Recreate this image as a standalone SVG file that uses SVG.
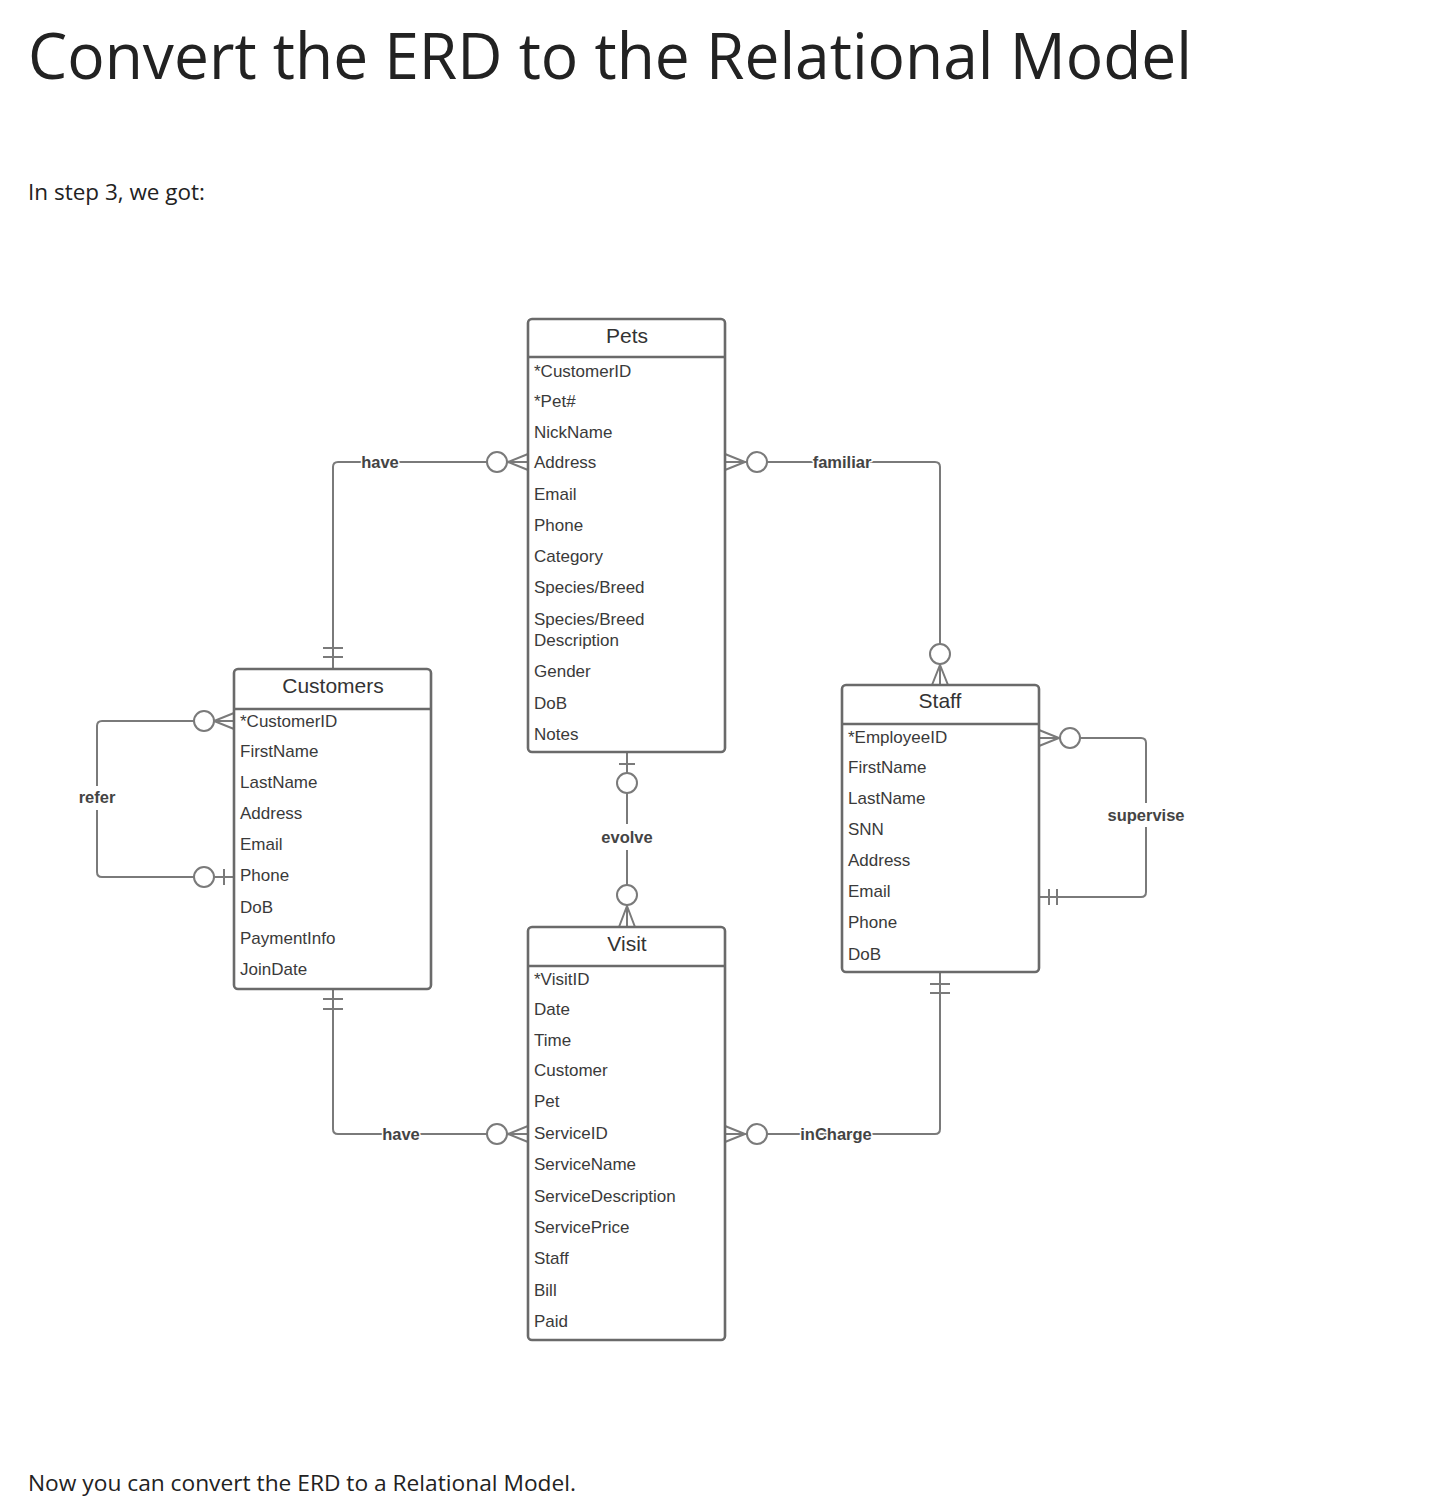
<svg xmlns="http://www.w3.org/2000/svg" width="1432" height="1509" viewBox="0 0 1432 1509">
<style>
.page{font-family:"Open Sans","Liberation Sans",sans-serif;fill:#222}
.box{fill:#fff;stroke:#6a6a6a;stroke-width:2.6}
.sep{stroke:#6a6a6a;stroke-width:2.6}
.ttl{font-family:"Liberation Sans",Arial,sans-serif;font-size:21px;fill:#333;text-anchor:middle}
.row{font-family:"Liberation Sans",Arial,sans-serif;font-size:17px;fill:#3a3a3a}
.ln{fill:none;stroke:#7a7a7a;stroke-width:2}
.cir{fill:#fff;stroke:#7a7a7a;stroke-width:2}
.bg{fill:#fff}
.lbl{font-family:"Liberation Sans",Arial,sans-serif;font-size:16.5px;font-weight:bold;fill:#444;text-anchor:middle;stroke:#fff;stroke-width:3;paint-order:stroke;stroke-linejoin:round}
</style>
<rect width="1432" height="1509" fill="#fff"/>
<text class="page" x="28" y="79" font-size="64" textLength="1164" lengthAdjust="spacingAndGlyphs">Convert the ERD to the Relational Model</text>
<text class="page" x="28" y="200" font-size="21" textLength="177" lengthAdjust="spacingAndGlyphs">In step 3, we got:</text>
<text class="page" x="28" y="1491" font-size="21" textLength="548" lengthAdjust="spacingAndGlyphs">Now you can convert the ERD to a Relational Model.</text>

<g id="connectors">
  <g id="c-have-top">
    <path class="ln" d="M487 462 H338 Q333 462 333 467 V669"/>
    <path class="ln" d="M323 648 H343 M323 657 H343"/>
    <path class="ln" d="M528 454 L508 462 L528 470 M507 462 H528"/>
    <circle class="cir" cx="497" cy="462" r="10"/>
    <text class="lbl" x="380" y="468">have</text>
  </g>
  <g id="c-familiar">
    <path class="ln" d="M767 462 H935 Q940 462 940 467 V644"/>
    <path class="ln" d="M725 454 L745 462 L725 470 M725 462 H747"/>
    <circle class="cir" cx="757" cy="462" r="10"/>
    <path class="ln" d="M932 685 L940 665 L948 685 M940 664 V685"/>
    <circle class="cir" cx="940" cy="654" r="10"/>
    <text class="lbl" x="842" y="468">familiar</text>
  </g>
  <g id="c-refer">
    <path class="ln" d="M194 721 H102 Q97 721 97 726 V872 Q97 877 102 877 H194"/>
    <path class="ln" d="M234 713 L214 721 L234 729 M214 721 H234"/>
    <circle class="cir" cx="204" cy="721" r="10"/>
    <path class="ln" d="M214 877 H234 M224 869 V885"/>
    <circle class="cir" cx="204" cy="877" r="10"/>
    <rect class="bg" x="76" y="786" width="42" height="24"/>
    <text class="lbl" x="97" y="803">refer</text>
  </g>
  <g id="c-evolve">
    <path class="ln" d="M627 752 V927"/>
    <path class="ln" d="M619 764 H635"/>
    <circle class="cir" cx="627" cy="783" r="10"/>
    <path class="ln" d="M619 927 L627 906 L635 927"/>
    <circle class="cir" cx="627" cy="895" r="10"/>
    <rect class="bg" x="598" y="824" width="58" height="26"/>
    <text class="lbl" x="627" y="843">evolve</text>
  </g>
  <g id="c-supervise">
    <path class="ln" d="M1080 738 H1141 Q1146 738 1146 743 V892 Q1146 897 1141 897 H1039"/>
    <path class="ln" d="M1039 730 L1059 738 L1039 746 M1039 738 H1060"/>
    <circle class="cir" cx="1070" cy="738" r="10"/>
    <path class="ln" d="M1049 889 V905 M1057 889 V905"/>
    <rect class="bg" x="1104" y="803" width="84" height="24"/>
    <text class="lbl" x="1146" y="821">supervise</text>
  </g>
  <g id="c-have-bottom">
    <path class="ln" d="M333 989 V1129 Q333 1134 338 1134 H487"/>
    <path class="ln" d="M323 999 H343 M323 1009 H343"/>
    <path class="ln" d="M528 1126 L508 1134 L528 1142 M507 1134 H528"/>
    <circle class="cir" cx="497" cy="1134" r="10"/>
    <text class="lbl" x="401" y="1140">have</text>
  </g>
  <g id="c-incharge">
    <path class="ln" d="M767 1134 H935 Q940 1134 940 1129 V972"/>
    <path class="ln" d="M725 1126 L745 1134 L725 1142 M725 1134 H747"/>
    <circle class="cir" cx="757" cy="1134" r="10"/>
    <path class="ln" d="M930 984 H950 M930 993 H950"/>
    <text class="lbl" x="836" y="1140">inCharge</text>
  </g>
</g>

<g id="pets">
  <rect class="box" x="528" y="319" width="197" height="433" rx="4"/>
  <line class="sep" x1="528" y1="357" x2="725" y2="357"/>
  <text class="ttl" x="627" y="343">Pets</text>
  <text class="row" x="534" y="377">*CustomerID</text>
  <text class="row" x="534" y="407">*Pet#</text>
  <text class="row" x="534" y="438">NickName</text>
  <text class="row" x="534" y="468">Address</text>
  <text class="row" x="534" y="500">Email</text>
  <text class="row" x="534" y="531">Phone</text>
  <text class="row" x="534" y="562">Category</text>
  <text class="row" x="534" y="593">Species/Breed</text>
  <text class="row" x="534" y="625">Species/Breed</text>
  <text class="row" x="534" y="646">Description</text>
  <text class="row" x="534" y="677">Gender</text>
  <text class="row" x="534" y="709">DoB</text>
  <text class="row" x="534" y="740">Notes</text>
</g>

<g id="customers">
  <rect class="box" x="234" y="669" width="197" height="320" rx="4"/>
  <line class="sep" x1="234" y1="709" x2="431" y2="709"/>
  <text class="ttl" x="333" y="693">Customers</text>
  <text class="row" x="240" y="727">*CustomerID</text>
  <text class="row" x="240" y="757">FirstName</text>
  <text class="row" x="240" y="788">LastName</text>
  <text class="row" x="240" y="819">Address</text>
  <text class="row" x="240" y="850">Email</text>
  <text class="row" x="240" y="881">Phone</text>
  <text class="row" x="240" y="913">DoB</text>
  <text class="row" x="240" y="944">PaymentInfo</text>
  <text class="row" x="240" y="975">JoinDate</text>
</g>

<g id="staff">
  <rect class="box" x="842" y="685" width="197" height="287" rx="4"/>
  <line class="sep" x1="842" y1="724" x2="1039" y2="724"/>
  <text class="ttl" x="940" y="708">Staff</text>
  <text class="row" x="848" y="743">*EmployeeID</text>
  <text class="row" x="848" y="773">FirstName</text>
  <text class="row" x="848" y="804">LastName</text>
  <text class="row" x="848" y="835">SNN</text>
  <text class="row" x="848" y="866">Address</text>
  <text class="row" x="848" y="897">Email</text>
  <text class="row" x="848" y="928">Phone</text>
  <text class="row" x="848" y="960">DoB</text>
</g>

<g id="visit">
  <rect class="box" x="528" y="927" width="197" height="413" rx="4"/>
  <line class="sep" x1="528" y1="966" x2="725" y2="966"/>
  <text class="ttl" x="627" y="951">Visit</text>
  <text class="row" x="534" y="985">*VisitID</text>
  <text class="row" x="534" y="1015">Date</text>
  <text class="row" x="534" y="1046">Time</text>
  <text class="row" x="534" y="1076">Customer</text>
  <text class="row" x="534" y="1107">Pet</text>
  <text class="row" x="534" y="1139">ServiceID</text>
  <text class="row" x="534" y="1170">ServiceName</text>
  <text class="row" x="534" y="1202">ServiceDescription</text>
  <text class="row" x="534" y="1233">ServicePrice</text>
  <text class="row" x="534" y="1264">Staff</text>
  <text class="row" x="534" y="1296">Bill</text>
  <text class="row" x="534" y="1327">Paid</text>
</g>
</svg>
